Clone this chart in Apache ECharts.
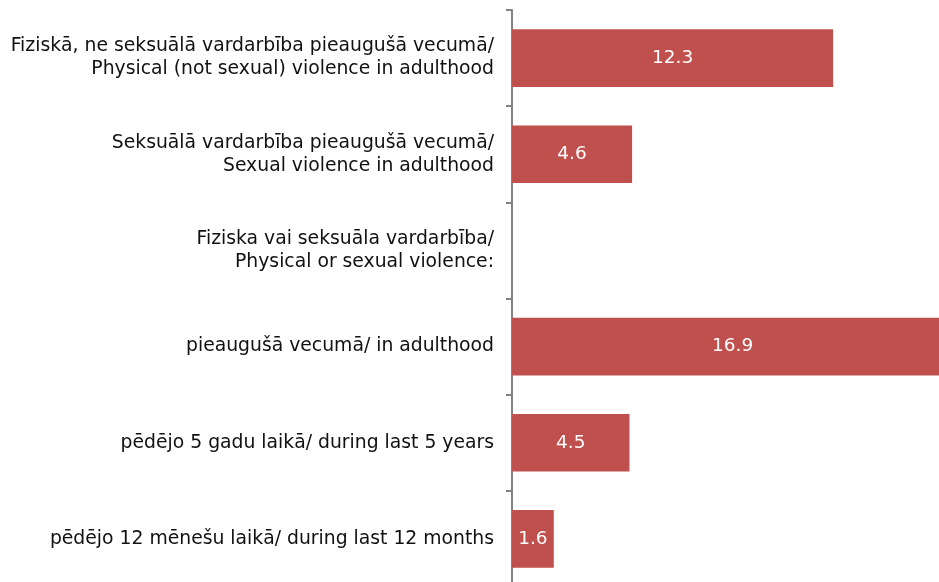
<!DOCTYPE html>
<html>
<head>
<meta charset="utf-8">
<script src="https://cdn.jsdelivr.net/npm/echarts@6/dist/echarts.min.js"></script>
<style>
  html, body { margin: 0; padding: 0; background: #fff; }
  #chart { width: 939px; height: 582px; }
</style>
</head>
<body>
<div id="chart"></div>
<script>
// kategorijas (no augšas uz leju)
const categories = [
  'Fiziskā, ne seksuālā vardarbība pieaugušā vecumā/\nPhysical (not sexual) violence in adulthood',
  'Seksuālā vardarbība pieaugušā vecumā/\nSexual violence in adulthood',
  'Fiziska vai seksuāla vardarbība/\nPhysical or sexual violence:',
  'pieaugušā vecumā/ in adulthood',
  'pēdējo 5 gadu laikā/ during last 5 years',
  'pēdējo 12 mēnešu laikā/ during last 12 months'
];
const values = [12.3, 4.6, null, 16.9, 4.5, 1.6];
const xMax = 18;

const chart = echarts.init(document.getElementById('chart'));

chart.setOption({
  animation: false,
  grid: { left: 512, top: 10, width: 470, height: 577, outerBoundsMode: 'none', containLabel: false },
  xAxis: {
    type: 'value',
    min: 0,
    max: xMax,
    show: false
  },
  yAxis: {
    type: 'category',
    inverse: true,
    data: categories,
    axisLine: { show: true, lineStyle: { color: '#828282', width: 2 } },
    axisTick: { show: true, length: 6, lineStyle: { color: '#828282', width: 2 } },
    axisLabel: {
      margin: 18,
      color: '#111111',
      fontFamily: 'DejaVu Sans',
      fontSize: 18.8,
      lineHeight: 23,
      align: 'right',
      padding: [5, 0, 0, 0]
    },
    splitLine: { show: false }
  },
  series: [{
    type: 'bar',
    data: values,
    barCategoryGap: '40%',
    itemStyle: { color: '#C0504D' },
    label: {
      show: true,
      position: 'inside',
      color: '#ffffff',
      fontFamily: 'DejaVu Sans',
      fontSize: 18.5,
      formatter: (p) => p.value == null ? '' : p.value.toFixed(1)
    }
  }]
});
</script>
</body>
</html>
